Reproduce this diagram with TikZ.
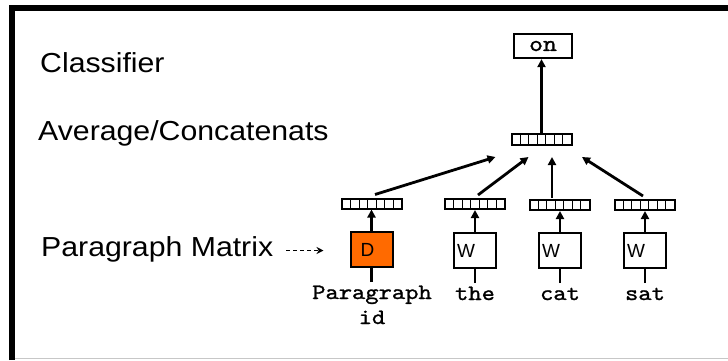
\documentclass[tikz,border=0pt]{standalone}
\usepackage{fontspec}
\newfontfamily\labelfont{Liberation Sans}[FakeStretch=1.1]
\newfontfamily\codefont{lmmono10-regular.otf}[FakeStretch=1.15,FakeBold=1.1]
\newfontfamily\boxfont{Liberation Sans}
\usetikzlibrary{arrows.meta,calc}

\tikzset{
  % embedding vector drawn as a row of seven cells
  vecbox/.style={draw, line width=2pt, minimum width=60pt, minimum height=10pt,
    inner sep=0pt,
    path picture={\foreach \k in {1,...,6}{
      \draw[line width=1.1pt]
        ($(path picture bounding box.south west)!\k/7!(path picture bounding box.south east)$) --
        ($(path picture bounding box.north west)!\k/7!(path picture bounding box.north east)$);}}},
  matbox/.style={draw, line width=2pt, minimum width=42pt, minimum height=35pt, inner sep=0pt},
  wbox/.style={matbox, fill=white},
  dbox/.style={matbox, fill=docorange},
  sidelabel/.style={anchor=base west, inner sep=0pt, font=\labelfont\fontsize{27.5}{33}\selectfont},
  wordlabel/.style={anchor=base, inner sep=0pt, align=center,
    font=\codefont\fontsize{22}{25}\selectfont},
  letter/.style={inner sep=0pt, font=\boxfont\fontsize{19}{21}\selectfont},
  arr/.style={line width=2.8pt, -{Triangle[length=8pt,width=8pt]}},
  stem/.style={line width=2.8pt}
}
\definecolor{docorange}{HTML}{FF6A00}

\begin{document}
\begin{tikzpicture}[x=1pt,y=-1pt]
  \useasboundingbox (0,0) rectangle (728,360);

  % frame
  \draw[line width=6pt] (12,360) -- (12,8) -- (728,8);
  \draw[line width=1.5pt, black!22] (15,358.5) -- (728,358.5);

  % layer captions
  \node[sidelabel] (cls) at (40,72) {Classifier};
  \node[sidelabel] (avg) at (38,140) {Average/Concatenats};
  \node[sidelabel] (pm)  at (41,256) {Paragraph Matrix};

  % classifier output
  \node[draw, line width=2.2pt, minimum width=58pt, minimum height=24pt, inner sep=0pt,
        font=\codefont\fontsize{23}{24}\selectfont] (on) at (543,46) {on};

  % averaged / concatenated vector
  \node[vecbox, minimum height=11pt] (va) at (541.5,139.5) {};

  % column vectors
  \node[vecbox] (vp) at (372,203.5) {};
  \node[vecbox] (vt) at (475,204) {};
  \node[vecbox] (vc) at (559.5,205) {};
  \node[vecbox] (vs) at (644.5,205) {};

  % matrices
  \node[dbox] (d) at (371.5,249.5) {};
  \node[wbox] (wt) at (475,250.5) {};
  \node[wbox] (wc) at (560,250.5) {};
  \node[wbox] (ws) at (645,250.5) {};
  \node[letter, anchor=west] (dl) at ([xshift=11pt]d.west) {D};
  \node[letter, anchor=west] (wtl) at ([xshift=4pt]wt.west) {W};
  \node[letter, anchor=west] (wcl) at ([xshift=4pt]wc.west) {W};
  \node[letter, anchor=west] (wsl) at ([xshift=4pt]ws.west) {W};

  % inputs (base anchor of a two-line node sits on its last line)
  \node[wordlabel] (pid) at (372,324) {Paragraph\\id};
  \node[wordlabel] (the) at (475,300) {the};
  \node[wordlabel] (cat) at (560,300) {cat};
  \node[wordlabel] (sat) at (645,300) {sat};

  \coordinate (pin) at (371.5,282);
  \coordinate (tin) at (475,283);
  \coordinate (cin) at (560,283);
  \coordinate (sin) at (645,283);
  \draw[stem] (pin) -- (d.south);
  \draw[stem] (tin) -- (wt.south);
  \draw[stem] (cin) -- (wc.south);
  \draw[stem] (sin) -- (ws.south);

  % matrix -> vector
  \draw[arr] (d.north) -- (d.north |- vp.south);
  \draw[arr] (wt.north) -- (wt.north |- vt.south);
  \draw[arr] (wc.north) -- (wc.north |- vc.south);
  \draw[arr] (ws.north) -- (ws.north |- vs.south);

  % vectors -> combined vector
  \draw[arr] ([xshift=3pt,yshift=3pt]vp.north) -- ([xshift=-46pt,yshift=-11pt]va.south);
  \draw[arr] ([xshift=3pt,yshift=3pt]vt.north) -- ([xshift=-13pt,yshift=-11pt]va.south);
  \draw[arr] ([xshift=-7.5pt,yshift=1pt]vc.north) -- ([xshift=10.5pt,yshift=-11pt]va.south);
  \draw[arr] ([xshift=-1.5pt,yshift=3pt]vs.north) -- ([xshift=40.5pt,yshift=-11pt]va.south);

  % combined vector -> classifier
  \draw[arr] (va.north) -- (va.north |- on.south);

  % paragraph matrix pointer
  \coordinate (pmend) at (286,250.5);
  \draw[line width=1.4pt, dash pattern=on 4pt off 3pt, -{Stealth[length=7pt,width=7pt]}]
    (pmend) -- ([xshift=-26pt]d.west |- pmend);
\end{tikzpicture}
\end{document}
